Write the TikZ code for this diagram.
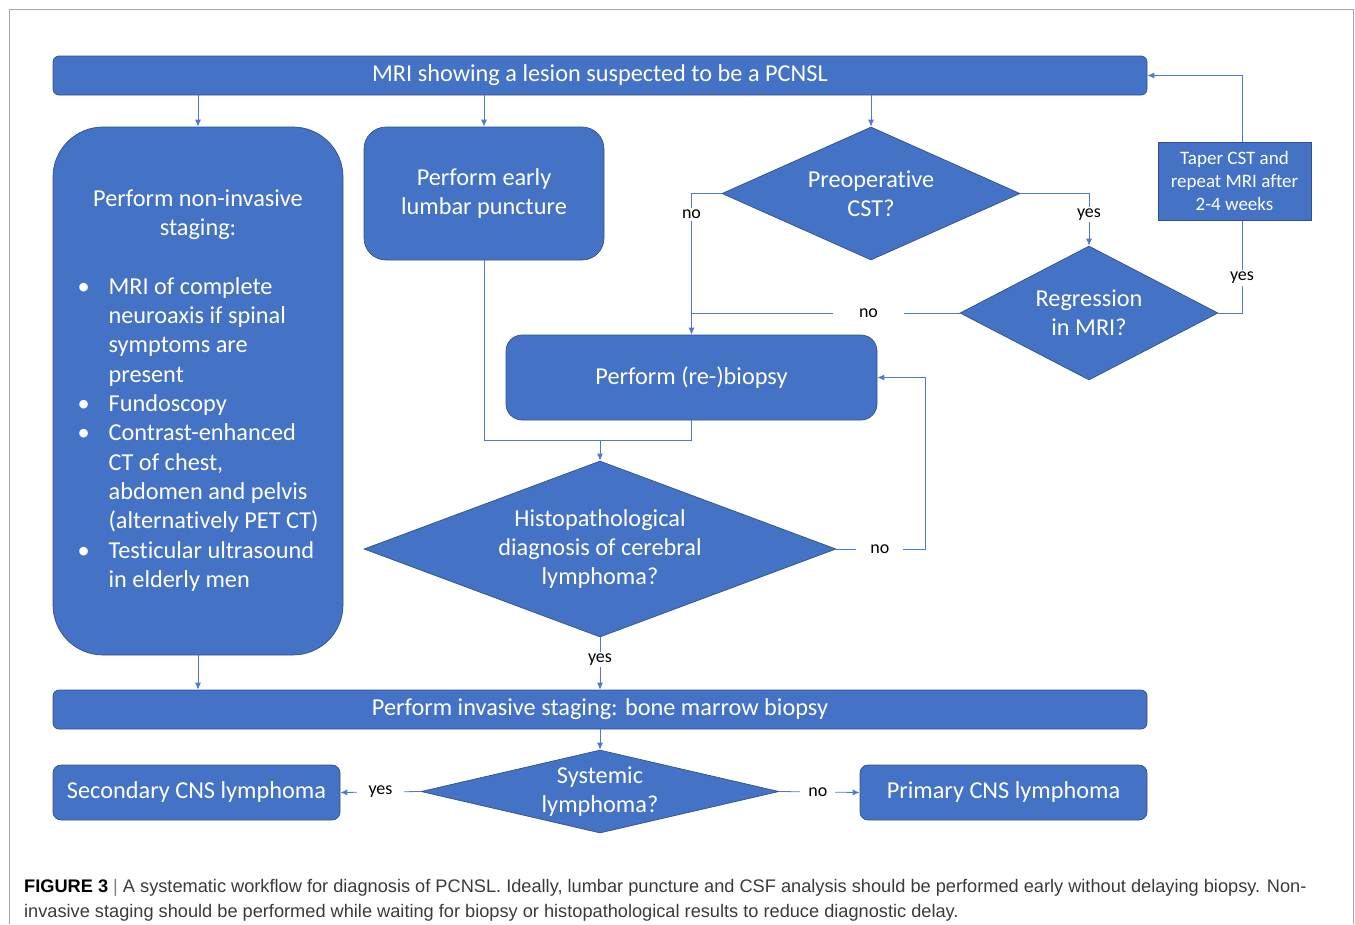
\documentclass[tikz,border=0pt]{standalone}
\usepackage{fontspec}
\setmainfont{Carlito}[Ligatures=NoCommon]
\newfontfamily\capfont{Liberation Sans}
\usetikzlibrary{shapes.geometric,arrows.meta}
\definecolor{boxblue}{HTML}{4472C4}
\definecolor{edgeblue}{HTML}{2F528F}
\definecolor{lineblue}{HTML}{4F7ACB}
\definecolor{framegray}{HTML}{A6A6A6}
\definecolor{capgray}{HTML}{3A3A3A}

\begin{document}
\begin{tikzpicture}[x=1pt,y=-1pt,
	>={Latex[length=7pt,width=6pt]},
	box/.style={draw=edgeblue,line width=0.7pt,fill=boxblue,text=white,align=center,inner sep=0pt,font=\fontsize{24.3}{29.3}\selectfont},
	rbox/.style={box,rounded corners=#1},
	decision/.style={box,diamond,aspect=#1},
	conn/.style={lineblue,line width=0.8pt},
	lbl/.style={fill=white,text=black,inner xsep=6pt,inner ysep=2pt,font=\fontsize{18}{20}\selectfont}]
	
	\useasboundingbox (0,0) rectangle (1355,924);
	\draw[framegray,line width=1pt] (9,924) -- (9,9.5) -- (1353,9.5) -- (1353,924);
	
	\node[rbox=6pt,minimum width=1094,minimum height=39] (mri) at (600,75.5) {MRI showing a lesion suspected to be a PCNSL};
	\node[rbox=50pt,minimum width=290,minimum height=528] (stage) at (198,391) {\begin{tabular}{@{}c@{}}Perform non-invasive\\staging:\\ \\
			\begin{tabular}[t]{@{}l@{\hspace{19pt}}l@{}}
				\textbullet & MRI of complete\\
				& neuroaxis if spinal\\
				& symptoms are\\
				& present\\
				\textbullet & Fundoscopy\\
				\textbullet & Contrast-enhanced\\
				& CT of chest,\\
				& abdomen and pelvis\\
				& (alternatively PET CT)\\
				\textbullet & Testicular ultrasound\\
				& in elderly men
			\end{tabular}\end{tabular}};
	\node[rbox=22pt,minimum width=240,minimum height=133] (lumbar) at (484,193.5) {Perform early\\lumbar puncture};
	\node[decision=2.24,minimum width=298,minimum height=133] (preop) at (871,193.5) {Preoperative\\CST?};
	\node[decision=1.93,minimum width=258,minimum height=134] (regr) at (1089,313) {Regression\\in MRI?};
	\node[rbox=16pt,minimum width=371,minimum height=85] (biopsy) at (691.5,377.5) {Perform (re-)biopsy};
	\node[decision=2.68,minimum width=472,minimum height=176] (histo) at (600,549) {Histopathological\\diagnosis of cerebral\\lymphoma?};
	\node[rbox=6pt,minimum width=1094,minimum height=39] (invasive) at (600,709.5) {Perform invasive staging: bone marrow biopsy};
	\node[decision=4.3,minimum width=358,minimum height=83] (systemic) at (600,791.5) {Systemic\\lymphoma?};
	\node[rbox=8pt,minimum width=287,minimum height=55] (secondary) at (196.5,792.5) {Secondary CNS lymphoma};
	\node[rbox=8pt,minimum width=287,minimum height=55] (primary) at (1003.5,792.5) {Primary CNS lymphoma};
	%
	\coordinate (loop) at (1242,75.5);
	\coordinate (join) at (600,440);
	\coordinate (retry) at (925,549);
	%
	\draw[conn,->] (mri.south -| stage.north) -- (stage.north);
	\draw[conn,->] (mri.south -| lumbar.north) -- (lumbar.north);
	\draw[conn,->] (mri.south -| preop.north) -- (preop.north);
	%
	\draw[conn,->] (preop.east) -| node[lbl,pos=0.7] {yes} (regr.north);
	\draw[conn,->] (preop.west) -| node[lbl,pos=0.574] {no} (biopsy.north);
	\draw[conn] (regr.west) -- node[lbl,pos=0.34,inner xsep=26pt] {no} (regr.west -| biopsy.north);
	\draw[conn,->] (regr.east) -| node[lbl,pos=0.574] {yes} (loop) -- (mri.east);
	\node[box,minimum width=153,minimum height=78,font=\fontsize{19}{23}\selectfont] (taper) at (1234.5,181) {Taper CST and\\repeat MRI after\\2-4 weeks};
	%
	\draw[conn] (lumbar.south) |- (biopsy.south |- join) -- (biopsy.south);
	\draw[conn,->] (join) -- (histo.north);
	\draw[conn,->] (histo.east) -- node[lbl,pos=0.49,inner xsep=14pt] {no} (retry) |- (biopsy.east);
	\draw[conn,->] (histo.south) -- node[lbl,pos=0.42] {yes} (invasive.north -| histo.south);
	\draw[conn,->] (stage.south) -- (invasive.north -| stage.south);
	%
	\draw[conn,->] (invasive.south -| systemic.north) -- (systemic.north);
	\draw[conn,->] (systemic.west) -- node[lbl,pos=0.5,inner xsep=12pt] {yes} (secondary.east);
	\draw[conn,->] (systemic.east) -- node[lbl,pos=0.48,inner xsep=8pt] {no} (primary.west);
	%
	\node[anchor=base west,inner sep=0pt,text=capgray,font=\capfont\fontsize{18.2}{20}\selectfont] (cap1) at (24,892) {\textbf{\color{black}FIGURE 3} \textcolor{gray}{|} A systematic workflow for diagnosis of PCNSL. Ideally, lumbar puncture and CSF analysis should be performed early without delaying biopsy. Non-};
	\node[anchor=base west,inner sep=0pt,text=capgray,font=\capfont\fontsize{18.2}{20}\selectfont] (cap2) at (24,917) {invasive staging should be performed while waiting for biopsy or histopathological results to reduce diagnostic delay.};
	
\end{tikzpicture}
\end{document}
